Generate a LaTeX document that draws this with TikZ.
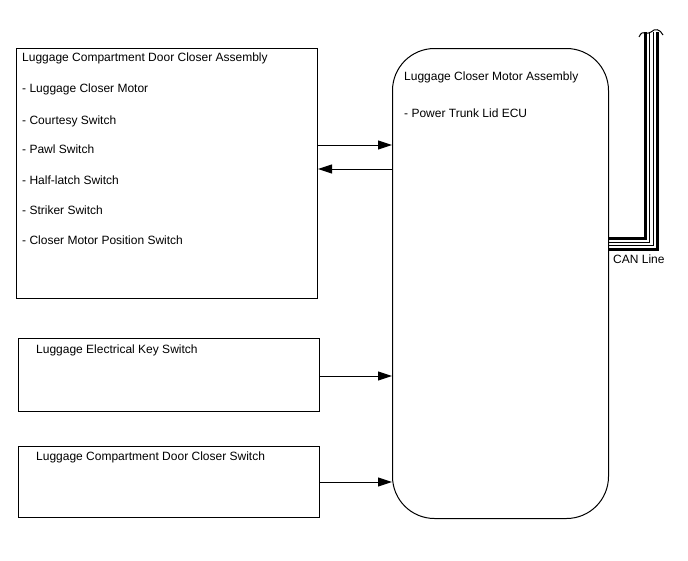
\documentclass[tikz,border=0pt]{standalone}
\usepackage{fontspec}
\setmainfont{Liberation Sans}
\usetikzlibrary{arrows.meta, positioning}

\begin{document}
\begin{tikzpicture}[x=1pt, y=-1pt,
    blk/.style={draw, line width=1pt, inner sep=0pt, anchor=north west},
    txt/.style={anchor=west, inner sep=0pt, font=\fontsize{12}{14}\selectfont},
    sig/.style={line width=1pt, -{Triangle[length=14pt, width=9pt]}}]
    \useasboundingbox (0,0) rectangle (688,560);
    % Boxes
    \node[blk, minimum width=301pt, minimum height=250pt] (asm) at (16,48) {};
    \node[blk, minimum width=301pt, minimum height=73pt]  (key) at (18,338) {};
    \node[blk, minimum width=301pt, minimum height=71pt]  (sw)  at (18,446) {};
    \node[blk, rounded corners=42pt, minimum width=216pt, minimum height=470pt] (ecu) at (392,48) {};
    % Box texts
    \node[txt] (asmtitle) at (22,58) {Luggage Compartment Door Closer Assembly};
    \foreach \y/\lbl/\nm in {89/Luggage Closer Motor/motor, 121/Courtesy Switch/courtesy,
        149/Pawl Switch/pawl, 180/Half-latch Switch/half, 210/Striker Switch/striker,
        240/Closer Motor Position Switch/position} {
      \node[txt] (\nm) at (22,\y) {- \lbl};
    }
    \node[txt] (ecutitle) at (404,77)  {Luggage Closer Motor Assembly};
    \node[txt] (ecusub)   at (404,113) {- Power Trunk Lid ECU};
    \node[txt] (keytxt)   at (36,350)  {Luggage Electrical Key Switch};
    \node[txt] (swtxt)    at (36,457)  {Luggage Compartment Door Closer Switch};
    % Signals
    \draw[sig] (asm.east |- 0,145) -- (ecu.west |- 0,145);
    \draw[sig] (ecu.west |- 0,169) -- (asm.east |- 0,169);
    \draw[sig] (key.east |- 0,376) -- (ecu.west |- 0,376);
    \draw[sig] (sw.east |- 0,482)  -- (ecu.west |- 0,482);
    % CAN bundle
    \coordinate (cantop) at (651,32);
    \draw[line width=3pt] (ecu.east |- 0,238) -| (cantop -| 645,0);
    \draw[line width=1pt] (ecu.east |- 0,242) -| (cantop -| 649.5,0);
    \draw[line width=1pt] (ecu.east |- 0,245.5) -| (cantop -| 653,0);
    \draw[line width=3pt] (ecu.east |- 0,249.5) -| (cantop -| 657.5,0);
    \draw[line width=1pt] (639,37) .. controls (643,28) and (647,36) .. (651,32)
      .. controls (655,28) and (660,29) .. (663,35);
    \node[txt] (can) at (613,259) {CAN Line};
\end{tikzpicture}
\end{document}
